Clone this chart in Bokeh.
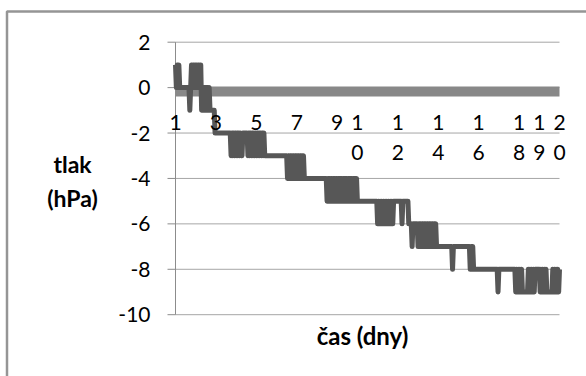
from bokeh.plotting import figure
from bokeh.models import Range1d
from bokeh.core.properties import value
from bokeh.embed import file_html
from bokeh.resources import INLINE

# hourly pressure change readings (hPa), one row per day, last value = start of day 20
tlak_hpa = [
    1, 0, 1, 0, 1, 0, 0, 0, 0, 0, 0, 0, 0, 0, 0, 0, 0, -1, 0, 1, 0, 1, 0, 1,
    0, 1, 0, 1, 0, 1, 1, -1, 0, -1, 0, -1, 0, -1, 0, -1, 0, -1, -1, -1, -1, -1, -1, -2,
    -2, -2, -2, -2, -2, -2, -2, -2, -2, -2, -2, -2, -2, -2, -2, -2, -2, -2, -3, -2, -3, -2, -3, -2,
    -3, -2, -3, -2, -3, -2, -3, -3, -2, -2, -2, -2, -2, -2, -3, -2, -3, -2, -3, -2, -3, -2, -3, -2,
    -3, -2, -3, -2, -3, -2, -3, -2, -3, -2, -3, -3, -3, -3, -3, -3, -3, -3, -3, -3, -3, -3, -3, -3,
    -3, -3, -3, -3, -3, -3, -3, -3, -3, -3, -3, -3, -3, -4, -3, -4, -3, -4, -3, -4, -3, -4, -3, -4,
    -3, -4, -3, -4, -3, -4, -3, -4, -3, -4, -4, -4, -4, -4, -4, -4, -4, -4, -4, -4, -4, -4, -4, -4,
    -4, -4, -4, -4, -4, -4, -4, -4, -4, -4, -4, -4, -5, -4, -5, -4, -5, -4, -5, -4, -5, -4, -5, -4,
    -5, -4, -5, -4, -5, -4, -5, -4, -5, -4, -5, -4, -5, -4, -5, -4, -5, -4, -5, -4, -5, -4, -5, -4,
    -5, -5, -5, -5, -5, -5, -5, -5, -5, -5, -5, -5, -5, -5, -5, -5, -5, -5, -5, -5, -5, -5, -5, -5,
    -6, -5, -6, -5, -6, -5, -6, -5, -6, -5, -6, -5, -6, -5, -6, -5, -6, -5, -6, -5, -5, -5, -5, -5,
    -5, -5, -5, -5, -5, -6, -5, -5, -5, -5, -5, -5, -5, -6, -6, -6, -6, -7, -6, -6, -6, -6, -6, -6,
    -7, -6, -7, -6, -7, -6, -7, -6, -7, -6, -7, -6, -7, -6, -7, -6, -7, -6, -7, -6, -7, -6, -7, -7,
    -7, -7, -7, -7, -7, -7, -7, -7, -7, -7, -7, -7, -7, -7, -7, -7, -7, -8, -7, -7, -7, -7, -7, -7,
    -7, -7, -7, -7, -7, -7, -7, -7, -7, -7, -7, -7, -7, -7, -8, -7, -8, -7, -8, -8, -8, -8, -8, -8,
    -8, -8, -8, -8, -8, -8, -8, -8, -8, -8, -8, -8, -8, -8, -8, -8, -8, -8, -8, -8, -8, -8, -8, -9,
    -8, -8, -8, -8, -8, -8, -8, -8, -8, -8, -8, -8, -8, -8, -8, -8, -8, -8, -8, -8, -9, -8, -9, -8,
    -9, -8, -9, -8, -9, -9, -9, -9, -9, -9, -9, -8, -9, -8, -9, -8, -9, -8, -9, -8, -8, -8, -8, -8,
    -8, -9, -8, -9, -8, -9, -8, -9, -8, -9, -9, -9, -9, -9, -9, -9, -8, -9, -8, -9, -8, -9, -8, -9,
    -8,
]
samples_per_day = 24
first_day = 1
last_day = 20

den_ticks = [1, 3, 5, 7, 9, 10, 12, 14, 16, 18, 19, 20]
den_labels = ["1", "3", "5", "7", "9", "1\n0", "1\n2", "1\n4", "1\n6", "1\n8", "1\n9", "2\n0"]
y_ticks = [-10, -8, -6, -4, -2, 0, 2]
y_labels = ["-10", "-8", "-6", "-4", "-2", "0", "2"]

reference_days = [1, 20]
reference_tlak = [-0.17, -0.17]

cas_dny = [first_day + i / samples_per_day for i in range(len(tlak_hpa))]

# ---- layout: the frame covers the whole canvas, plot area 175..559 x 41.7..314.2 px ----
W, H = 586, 376
PX_L, PX_R = 175.0, 559.0
PY_T, PY_B = 41.7, 314.2
kx = (PX_R - PX_L) / (last_day - first_day)
ky = (PY_B - PY_T) / (y_ticks[-1] - y_ticks[0])


def dx(px):
    return first_day + (px - PX_L) / kx


def dy(py):
    return y_ticks[-1] - (py - PY_T) / ky


p = figure(width=W, height=H, output_backend="svg", toolbar_location=None,
           x_range=Range1d(dx(0), dx(W)), y_range=Range1d(dy(H), dy(0)),
           x_axis_location=None, y_axis_location=None,
           min_border=0, min_border_left=0, min_border_right=0,
           min_border_top=0, min_border_bottom=0)
p.outline_line_color = None
p.background_fill_color = "white"
p.border_fill_color = "white"
p.grid.visible = False

GRID = "#a6a6a6"
AXIS = "#8c8c8c"
FONT = value("Lato")

# chart border (top + left visible; the rest runs off the picture)
p.line([dx(6.5), dx(6.5), dx(W + 20)], [dy(H + 20), dy(11), dy(11)],
       line_color="#959595", line_width=2.5)

# horizontal gridlines
n = len(y_ticks)
p.segment(x0=[first_day] * n, y0=y_ticks, x1=[last_day] * n, y1=y_ticks,
          line_color=GRID, line_width=1)
# value axis line and outside ticks
p.segment(x0=[first_day], y0=[y_ticks[0]], x1=[first_day], y1=[y_ticks[-1]],
          line_color=AXIS, line_width=1)
p.segment(x0=[dx(PX_L - 8)] * n, y0=y_ticks, x1=[first_day] * n, y1=y_ticks,
          line_color=AXIS, line_width=1)
p.text(x=[first_day] * n, y=y_ticks, text=y_labels, x_offset=-25,
       text_align="right", text_baseline="middle", text_font=FONT,
       text_font_size="21px", text_color="black")

# series
p.line(reference_days, reference_tlak, line_color="#888888", line_width=10)
p.line(cas_dny, tlak_hpa, line_color="#575757", line_width=5, line_join="round")

# category labels (axis crosses at 0); long labels wrap onto a second line
line1 = [lab.split("\n")[0] for lab in den_labels]
line2 = [lab.split("\n")[1] if "\n" in lab else "" for lab in den_labels]
p.text(x=den_ticks, y=[0] * len(den_ticks), text=line1, y_offset=35,
       text_align="center", text_baseline="middle", text_font=FONT,
       text_font_size="21px", text_color="black")
p.text(x=den_ticks, y=[0] * len(den_ticks), text=line2, y_offset=65,
       text_align="center", text_baseline="middle", text_font=FONT,
       text_font_size="21px", text_color="black")

# axis titles
p.text(x=[dx(72), dx(72)], y=[dy(163), dy(197)],
       text=["tlak", "(hPa)"], text_align="center",
       text_baseline="middle", text_font=FONT, text_font_style="bold",
       text_font_size="23px", text_color="black")
p.text(x=[dx(362)], y=[dy(335)], text=["čas (dny)"], text_align="center",
       text_baseline="middle", text_font=FONT, text_font_style="bold",
       text_font_size="24px", text_color="black")

open("out.html", "w").write(file_html(p, INLINE))
